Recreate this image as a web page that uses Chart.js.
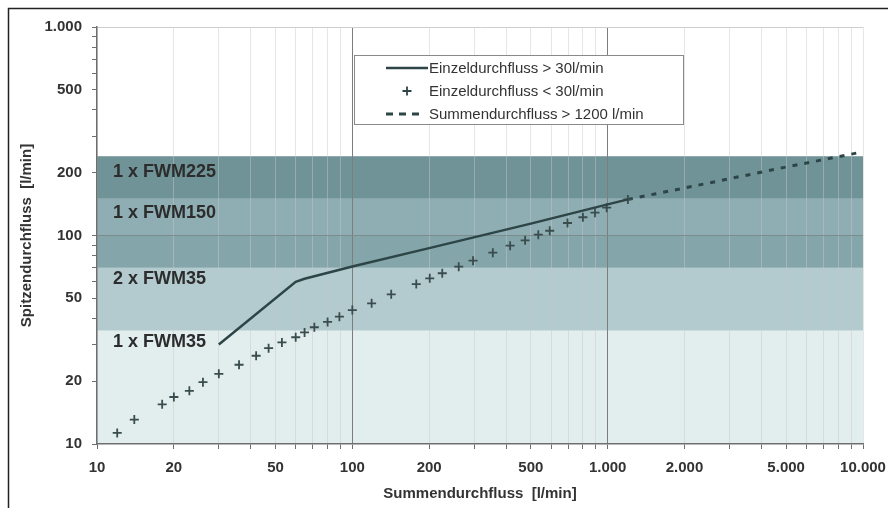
<!DOCTYPE html>
<html>
<head>
<meta charset="utf-8">
<script src="https://cdn.jsdelivr.net/npm/chart.js@4.4.1/dist/chart.umd.min.js"></script>
<style>
  html, body { margin: 0; padding: 0; background: #fff; }
  #wrap { width: 888px; height: 508px; }
</style>
</head>
<body>
<div id="wrap"><canvas id="flowChart" width="888" height="508"></canvas></div>
<script>
// Einzeldurchfluss > 30 l/min (durchgezogene Linie)
const lineX = [30, 60, 65, 100, 200, 500, 1000, 1200];
const lineY = [30, 60, 62, 71, 87, 114, 141, 149];

// Einzeldurchfluss < 30 l/min (Kreuze)
const plusX = [12, 14, 18, 20, 23, 26, 30, 36, 42, 47, 53, 60, 65, 71, 80, 89, 100,
               119, 142, 178, 201, 225, 261, 297, 355, 415, 475, 535, 593, 696, 800, 892, 991, 1200];
const plusY = [11.3, 13.1, 15.5, 16.8, 18.0, 19.8, 21.7, 24.0, 26.5, 28.8, 30.7, 32.5, 34.3, 36.3, 38.5, 40.8, 43.9,
               47.3, 52.2, 58.5, 62.3, 65.9, 70.9, 75.7, 82.7, 89.4, 94.8, 100.9, 105.4, 114.8, 122.3, 128.6, 135.9, 149];

// Summendurchfluss > 1200 l/min (gestrichelt)
const sumX = [1200, 2000, 5000, 10000];
const sumY = [149, 169, 213, 252];

// Bereiche der Wassermesser
const bandLow  = [10, 35, 70, 100, 150];
const bandHigh = [35, 70, 100, 150, 240];
const bandNames = ['1 x FWM35', '2 x FWM35', '', '1 x FWM150', '1 x FWM225'];
const bandLabelAt = [30.8, 61.8, 0, 128, 201];

// Achsen
const xTickValues = [10, 20, 50, 100, 200, 500, 1000, 2000, 5000, 10000];
const xTickLabels = ['10', '20', '50', '100', '200', '500', '1.000', '2.000', '5.000', '10.000'];
const yTickValues = [10, 20, 50, 100, 200, 500, 1000];
const yTickLabels = ['10', '20', '50', '100', '200', '500', '1.000'];

const bandColors = ['#e2edee', '#b3cbcf', '#84a6ab', '#8faeb3', '#6f9397'];
const darkLine = '#2e4547';
const FONT = "'Liberation Sans', Arial, sans-serif";

function pts(xs, ys) { return xs.map((x, i) => ({ x: x, y: ys[i] })); }

// Gitterwerte 1..9 je Dekade
function logGrid(min, max) {
  const out = [];
  for (let d = min; d < max; d *= 10) {
    for (let k = 1; k < 10; k++) out.push(d * k);
  }
  out.push(max);
  return out;
}

const bandsPlugin = {
  id: 'bands',
  beforeDraw(chart) {
    const { ctx, chartArea: a, scales: { y } } = chart;
    ctx.save();
    bandLow.forEach((lo, i) => {
      const top = y.getPixelForValue(bandHigh[i]);
      const bot = y.getPixelForValue(lo);
      ctx.fillStyle = bandColors[i];
      ctx.fillRect(a.left, top, a.right - a.left, bot - top);
    });
    ctx.restore();
  },
  afterDatasetsDraw(chart) {
    const { ctx, chartArea: a, scales: { y } } = chart;
    ctx.save();
    ctx.font = 'bold 18px ' + FONT;
    ctx.fillStyle = '#2c2c2c';
    ctx.textBaseline = 'middle';
    bandNames.forEach((n, i) => {
      if (!n) return;
      ctx.fillText(n, a.left + 16, y.getPixelForValue(bandLabelAt[i]));
    });
    ctx.restore();
  },
  afterDraw(chart) {
    const ctx = chart.ctx;
    ctx.save();
    // Rahmen
    ctx.strokeStyle = '#222';
    ctx.lineWidth = 1.5;
    ctx.beginPath();
    ctx.moveTo(8.5, 508);
    ctx.lineTo(8.5, 8.5);
    ctx.lineTo(888, 8.5);
    ctx.stroke();

    // Legende
    const bx = 354, by = 55, bw = 329, bh = 69;
    ctx.fillStyle = '#fff';
    ctx.fillRect(bx, by, bw, bh);
    ctx.strokeStyle = '#8a8a8a';
    ctx.lineWidth = 1;
    ctx.strokeRect(bx + 0.5, by + 0.5, bw, bh);
    ctx.font = '15px ' + FONT;
    ctx.textBaseline = 'middle';
    ctx.fillStyle = '#333';
    const rows = [68, 91, 114];
    chart.data.datasets.forEach((ds, i) => {
      const ry = rows[i];
      ctx.strokeStyle = darkLine;
      if (i === 0) {
        ctx.lineWidth = 2.5;
        ctx.setLineDash([]);
        ctx.beginPath(); ctx.moveTo(386, ry); ctx.lineTo(428, ry); ctx.stroke();
      } else if (i === 1) {
        ctx.lineWidth = 1.8;
        ctx.setLineDash([]);
        ctx.beginPath();
        ctx.moveTo(402.5, ry); ctx.lineTo(411.5, ry);
        ctx.moveTo(407, ry - 4.5); ctx.lineTo(407, ry + 4.5);
        ctx.stroke();
      } else {
        ctx.lineWidth = 3;
        ctx.setLineDash([7, 6]);
        ctx.beginPath(); ctx.moveTo(386, ry); ctx.lineTo(421, ry); ctx.stroke();
        ctx.setLineDash([]);
      }
      ctx.fillText(ds.label, 429, ry + 1);
    });
    ctx.restore();
  }
};

new Chart(document.getElementById('flowChart'), {
  type: 'scatter',
  data: {
    datasets: [
      {
        label: 'Einzeldurchfluss > 30l/min',
        data: pts(lineX, lineY),
        showLine: true,
        borderColor: darkLine,
        borderWidth: 2.5,
        pointRadius: 0,
        tension: 0
      },
      {
        label: 'Einzeldurchfluss < 30l/min',
        data: pts(plusX, plusY),
        showLine: false,
        pointStyle: 'cross',
        pointRadius: 4.5,
        borderColor: '#3a4c4e',
        borderWidth: 1.8,
        backgroundColor: '#3a4c4e'
      },
      {
        label: 'Summendurchfluss > 1200 l/min',
        data: pts(sumX, sumY),
        showLine: true,
        borderColor: darkLine,
        borderWidth: 3,
        borderDash: [5, 7],
        pointRadius: 0
      }
    ]
  },
  options: {
    responsive: false,
    animation: false,
    devicePixelRatio: 1,
    layout: { padding: { left: 0, top: 27, right: 25, bottom: 0 } },
    plugins: {
      legend: { display: false },
      tooltip: { enabled: false }
    },
    scales: {
      x: {
        type: 'logarithmic',
        min: 10,
        max: 10000,
        afterBuildTicks: s => { s.ticks = logGrid(10, 10000).map(v => ({ value: v })); },
        afterFit: s => { s.height = 64; s.paddingRight = 0; s.paddingLeft = 0; },
        border: { display: true, color: '#6e6e6e', width: 1.5 },
        grid: {
          color: c => {
            const v = c.tick && c.tick.value;
            if (v === 100 || v === 1000) return '#7d7d7d';
            return 'rgba(200,200,200,0.45)';
          },
          lineWidth: 1,
          tickLength: 5,
          tickColor: '#6e6e6e'
        },
        ticks: {
          autoSkip: false,
          maxRotation: 0,
          padding: 10,
          color: '#333',
          font: { family: FONT, size: 15, weight: 'bold' },
          callback: v => {
            const i = xTickValues.indexOf(v);
            return i >= 0 ? xTickLabels[i] : '';
          }
        },
        title: {
          display: true,
          text: 'Summendurchfluss  [l/min]',
          color: '#333',
          font: { family: FONT, size: 15, weight: 'bold' },
          padding: { top: 0, bottom: 5 }
        }
      },
      y: {
        type: 'logarithmic',
        min: 10,
        max: 1000,
        afterBuildTicks: s => { s.ticks = logGrid(10, 1000).map(v => ({ value: v })); },
        afterFit: s => { s.width = 97; },
        border: { display: true, color: '#6e6e6e', width: 1.5 },
        grid: {
          color: c => {
            const v = c.tick && c.tick.value;
            if (v === 100) return '#7f8c8d';
            if (v === 1000) return '#cfcfcf';
            return 'rgba(0,0,0,0)';
          },
          lineWidth: 1,
          tickLength: 5,
          tickColor: '#6e6e6e'
        },
        ticks: {
          autoSkip: false,
          padding: 10,
          color: '#333',
          font: { family: FONT, size: 15, weight: 'bold' },
          callback: v => {
            const i = yTickValues.indexOf(v);
            return i >= 0 ? yTickLabels[i] : '';
          }
        },
        title: {
          display: true,
          text: 'Spitzendurchfluss  [l/min]',
          color: '#333',
          font: { family: FONT, size: 15, weight: 'bold' },
          padding: { top: 18, bottom: 0 }
        }
      }
    }
  },
  plugins: [bandsPlugin]
});
</script>
</body>
</html>
